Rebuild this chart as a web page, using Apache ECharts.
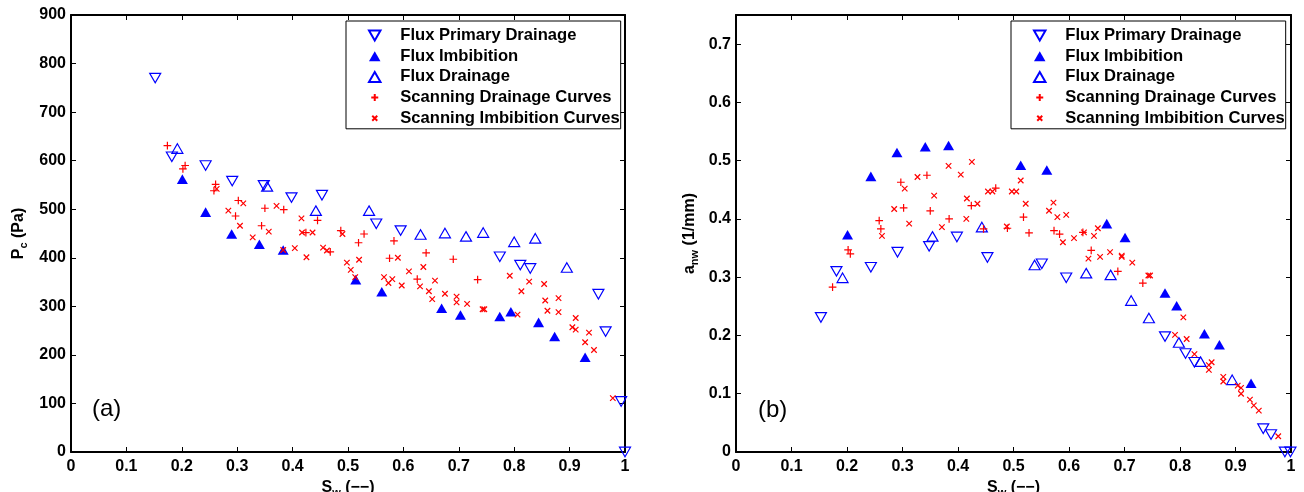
<!DOCTYPE html>
<html>
<head>
<meta charset="utf-8">
<script src="https://cdn.jsdelivr.net/npm/echarts@6/dist/echarts.min.js"></script>
<style>html,body{margin:0;padding:0;background:#fff}#c{width:1304px;height:492px}</style>
</head>
<body>
<div id="c"></div>
<script>
// ---------- data ----------
const seriesNames = ['Flux Primary Drainage','Flux Imbibition','Flux Drainage','Scanning Drainage Curves','Scanning Imbibition Curves'];

// panel (a): Pc (Pa) vs Sw
const pdSwA = [0.152,0.182,0.243,0.291,0.348,0.398,0.453,0.551,0.595,0.774,0.811,0.829,0.952,0.965,0.993,1.0];
const pdPc  = [770,608,590,558,549,524,529,470,456,402,385,378,325,248,104,0];
const imSwA = [0.201,0.243,0.290,0.340,0.383,0.514,0.561,0.669,0.703,0.774,0.794,0.844,0.873,0.928];
const imPc  = [562,494,449,428,416,355,330,296,282,279,289,267,238,195];
const drSwA = [0.192,0.354,0.442,0.538,0.631,0.675,0.713,0.744,0.800,0.838,0.895];
const drPc  = [625,547,497,497,448,451,444,452,433,440,380];
const sdSwA = [0.174,0.202,0.206,0.258,0.261,0.297,0.302,0.344,0.350,0.384,0.424,0.445,0.468,0.487,0.519,0.529,0.575,0.583,0.625,0.641,0.690,0.734];
const sdPc  = [631,583,590,538,551,486,518,466,502,499,452,477,412,456,431,449,399,435,356,410,397,355];
const siSwA = [0.263,0.284,0.305,0.311,0.328,0.357,0.371,0.383,0.404,0.416,0.417,0.425,0.436,0.455,0.462,0.490,0.498,0.505,0.513,0.520,0.565,0.573,0.580,0.590,0.597,0.610,0.630,0.636,0.646,0.652,0.657,0.675,0.696,0.696,0.715,0.743,0.746,0.792,0.806,0.813,0.827,0.854,0.856,0.860,0.880,0.880,0.905,0.911,0.911,0.928,0.935,0.944,0.978];
const siPc  = [542,497,466,512,442,454,507,416,420,481,452,401,452,421,415,449,390,375,360,396,360,348,356,400,343,372,341,381,331,315,353,326,320,308,305,294,294,363,283,331,351,346,312,291,317,288,257,276,252,226,246,210,111];

// panel (b): anw (1/mm) vs Sw
const pdSwB = [0.153,0.181,0.243,0.291,0.348,0.398,0.453,0.551,0.595,0.773,0.810,0.826,0.950,0.964,0.989,0.999];
const pdAnw = [0.231,0.310,0.317,0.343,0.353,0.369,0.334,0.323,0.299,0.198,0.169,0.154,0.040,0.030,0,0];
const imSwB = [0.201,0.243,0.290,0.341,0.383,0.513,0.560,0.668,0.701,0.773,0.794,0.844,0.871,0.928];
const imAnw = [0.373,0.473,0.514,0.524,0.526,0.492,0.484,0.392,0.368,0.273,0.251,0.203,0.184,0.118];
const drSwB = [0.192,0.354,0.443,0.538,0.631,0.675,0.712,0.744,0.798,0.837,0.894];
const drAnw = [0.299,0.370,0.386,0.321,0.307,0.304,0.260,0.230,0.188,0.155,0.124];
const sdSwB = [0.174,0.202,0.206,0.258,0.261,0.297,0.302,0.344,0.350,0.384,0.424,0.446,0.468,0.489,0.518,0.528,0.573,0.583,0.625,0.640,0.688,0.733];
const sdAnw = [0.283,0.347,0.340,0.397,0.383,0.463,0.419,0.475,0.414,0.400,0.423,0.383,0.453,0.384,0.403,0.376,0.380,0.374,0.377,0.346,0.310,0.290];
const siSwB = [0.263,0.285,0.304,0.312,0.327,0.357,0.371,0.383,0.405,0.415,0.416,0.425,0.435,0.454,0.462,0.488,0.497,0.505,0.513,0.522,0.564,0.572,0.579,0.589,0.595,0.609,0.627,0.635,0.645,0.652,0.656,0.674,0.695,0.695,0.714,0.743,0.746,0.791,0.806,0.812,0.826,0.852,0.857,0.852,0.878,0.878,0.904,0.910,0.910,0.926,0.933,0.942,0.977];
const siAnw = [0.371,0.417,0.452,0.392,0.472,0.440,0.386,0.491,0.476,0.400,0.435,0.498,0.426,0.447,0.447,0.387,0.447,0.447,0.466,0.426,0.414,0.428,0.403,0.360,0.407,0.367,0.377,0.332,0.371,0.384,0.335,0.343,0.335,0.337,0.325,0.303,0.303,0.201,0.231,0.194,0.168,0.149,0.154,0.141,0.129,0.121,0.114,0.110,0.100,0.090,0.080,0.071,0.027];

// ---------- styling ----------
const F = '"Liberation Sans", Arial, sans-serif';
const BLUE = '#0000ff', RED = '#ff0000';
const SYM_DOWN  = 'path://M0,0L10,0L5,8.7Z';
const SYM_UP    = 'path://M5,0L10,8.7L0,8.7Z';
const SYM_PLUS  = 'path://M0,0M10,10M1.5,5L8.5,5M5,1.5L5,8.5';
const SYM_CROSS = 'path://M0,0M10,10M2.5,2.5L7.5,7.5M7.5,2.5L2.5,7.5';

const styles = [
  {symbol: SYM_DOWN,  itemStyle: {color: 'rgba(0,0,0,0)', borderColor: BLUE, borderWidth: 1.2, opacity: 1}},
  {symbol: SYM_UP,    itemStyle: {color: BLUE, borderWidth: 0, opacity: 1}},
  {symbol: SYM_UP,    itemStyle: {color: 'rgba(0,0,0,0)', borderColor: BLUE, borderWidth: 1.2, opacity: 1}},
  {symbol: SYM_PLUS,  itemStyle: {color: 'rgba(0,0,0,0)', borderColor: RED, borderWidth: 1.2, opacity: 1}},
  {symbol: SYM_CROSS, itemStyle: {color: 'rgba(0,0,0,0)', borderColor: RED, borderWidth: 1.2, opacity: 1}}
];

function zip(a, b) { return a.map((v, i) => [v, b[i]]); }
const panelA = [zip(pdSwA, pdPc), zip(imSwA, imPc), zip(drSwA, drPc), zip(sdSwA, sdPc), zip(siSwA, siPc)];
const panelB = [zip(pdSwB, pdAnw), zip(imSwB, imAnw), zip(drSwB, drAnw), zip(sdSwB, sdAnw), zip(siSwB, siAnw)];

const fmt = v => String(+(+v).toFixed(2));
const labelStyle = {fontSize: 16, fontWeight: 'bold', color: '#000', fontFamily: F};
const lineStyle = {color: '#000', width: 2};
const tickStyle = {color: '#000', width: 1};
const nameRich = {
  b: {fontSize: 16, fontWeight: 'bold', color: '#000', fontFamily: F},
  s: {fontSize: 11, fontWeight: 'bold', color: '#000', fontFamily: F, padding: [10, 0, 0, 0]}
};

function xAx(g, main) {
  const o = {gridIndex: g, type: 'value', min: 0, max: 1, interval: 0.1,
    position: main ? 'bottom' : 'top',
    axisLine: {show: true, onZero: false, lineStyle},
    axisTick: {show: true, inside: true, length: 5, lineStyle: tickStyle},
    splitLine: {show: false},
    axisLabel: main ? Object.assign({margin: 7, formatter: fmt}, labelStyle) : {show: false}};
  if (main) {
    o.name = '{b|S}{s|w}{b| (−−)}';
    o.nameLocation = 'middle';
    o.nameGap = 24;
    o.nameTextStyle = {rich: nameRich};
  }
  return o;
}
function yAx(g, main, max, interval, name, gap) {
  const o = {gridIndex: g, type: 'value', min: 0, max: max, interval: interval,
    position: main ? 'left' : 'right',
    axisLine: {show: true, onZero: false, lineStyle},
    axisTick: {show: true, inside: true, length: 5, lineStyle: tickStyle},
    splitLine: {show: false},
    axisLabel: main ? Object.assign({margin: 5, formatter: v => (Math.abs(v - 0.75) < 1e-9 ? '' : fmt(v))}, labelStyle) : {show: false}};
  if (main) {
    o.name = name;
    o.nameLocation = 'middle';
    o.nameGap = gap;
    o.nameTextStyle = {rich: nameRich};
  }
  return o;
}

const series = [];
[panelA, panelB].forEach((panel, g) => {
  panel.forEach((data, k) => {
    series.push(Object.assign({
      type: 'scatter', name: seriesNames[k], xAxisIndex: g * 2, yAxisIndex: g * 2,
      data: data, symbolSize: 11, symbolKeepAspect: true,
      emphasis: {disabled: true}, silent: true
    }, styles[k]));
  });
});

function legend(left) {
  return {data: seriesNames, orient: 'vertical', left: left, top: 21,
    padding: [6, 1, 2, 22], itemGap: 3.7, itemWidth: 41, itemHeight: 10,
    borderColor: '#000', borderWidth: 1, backgroundColor: '#fff', selectedMode: false,
    textStyle: {fontSize: 16.6, fontWeight: 'bold', color: '#000', fontFamily: F}};
}

const option = {
  animation: false,
  backgroundColor: '#fff',
  grid: [
    {left: 71, right: 679, top: 15, bottom: 40, containLabel: false, outerBoundsMode: 'none'},
    {left: 736, right: 13, top: 15, bottom: 40, containLabel: false, outerBoundsMode: 'none'}
  ],
  xAxis: [xAx(0, true), xAx(0, false), xAx(1, true), xAx(1, false)],
  yAxis: [
    yAx(0, true, 900, 100, '{b|P}{s|c}{b| (Pa)}', 42), yAx(0, false, 900, 100),
    yAx(1, true, 0.75, 0.1, '{b|a}{s|nw}{b| (1/mm)}', 36), yAx(1, false, 0.75, 0.1)
  ],
  legend: [legend(346), legend(1011)],
  graphic: [
    {type: 'text', left: 92, top: 397, style: {text: '(a)', font: '24px ' + F, fill: '#000'}},
    {type: 'text', left: 758, top: 398, style: {text: '(b)', font: '24px ' + F, fill: '#000'}}
  ],
  series: series
};

const chart = echarts.init(document.getElementById('c'), null, {renderer: 'canvas'});
chart.setOption(option);
</script>
</body>
</html>
